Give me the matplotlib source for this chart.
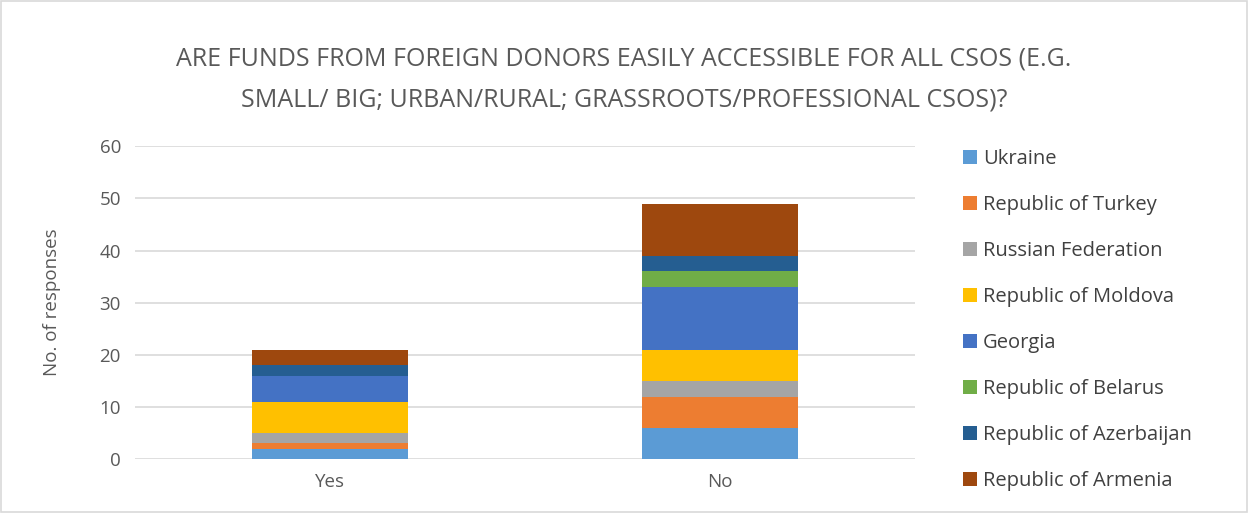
import matplotlib
matplotlib.use("Agg")
import matplotlib.pyplot as plt
from matplotlib.patches import Rectangle

categories = ["Yes", "No"]
countries = ["Ukraine", "Republic of Turkey", "Russian Federation", "Republic of Moldova",
             "Georgia", "Republic of Belarus", "Republic of Azerbaijan", "Republic of Armenia"]
values = {
    "Ukraine": [2, 6],
    "Republic of Turkey": [1, 6],
    "Russian Federation": [2, 3],
    "Republic of Moldova": [6, 6],
    "Georgia": [5, 12],
    "Republic of Belarus": [0, 3],
    "Republic of Azerbaijan": [2, 3],
    "Republic of Armenia": [3, 10],
}
colors = ["#5B9BD5", "#ED7D31", "#A5A5A5", "#FFC000", "#4472C4", "#70AD47", "#255E91", "#9E480E"]

plt.rcParams['font.family'] = ['Open Sans', 'DejaVu Sans']

fig = plt.figure(figsize=(12.48, 5.13), dpi=100)
fig.patches.append(Rectangle((0.0005, 0.001), 0.999, 0.998, transform=fig.transFigure,
                             fill=False, edgecolor="#D9D9D9", linewidth=1.2))
ax = fig.add_axes([0.108, 0.105, 0.625, 0.61])

x = list(range(len(categories)))
bottom = [0] * len(categories)
handles = []
for name, c in zip(countries, colors):
    v = values[name]
    b = ax.bar(x, v, 0.4, bottom=bottom, color=c, label=name, zorder=3)
    handles.append(b)
    bottom = [bb + vv for bb, vv in zip(bottom, v)]

ax.set_xlim(-0.5, 1.5)
ax.set_ylim(0, 60)
ax.set_yticks(range(0, 61, 10))
ax.set_xticks(x)
ax.set_xticklabels(categories)
ax.grid(axis="y", color="#D9D9D9", linewidth=1.2, zorder=0)
for s in ax.spines.values():
    s.set_visible(False)
ax.tick_params(length=0, labelsize=13.5, colors="#595959", pad=10)
ax.set_ylabel("No. of responses", fontsize=13.5, color="#595959", labelpad=28)

fig.text(0.5, 0.885, "ARE FUNDS FROM FOREIGN DONORS EASILY ACCESSIBLE FOR ALL CSOS (E.G.",
         ha="center", va="center", fontsize=18, color="#595959")
fig.text(0.5, 0.805, "SMALL/ BIG; URBAN/RURAL; GRASSROOTS/PROFESSIONAL CSOS)?",
         ha="center", va="center", fontsize=18, color="#595959")

fig.legend(handles, countries, loc="upper left", bbox_to_anchor=(0.757, 0.745),
           frameon=False, fontsize=14.5, labelcolor="#404040",
           handlelength=0.7, handleheight=0.7, handletextpad=0.3, labelspacing=1.29)

fig.savefig("out.png", dpi=100)
